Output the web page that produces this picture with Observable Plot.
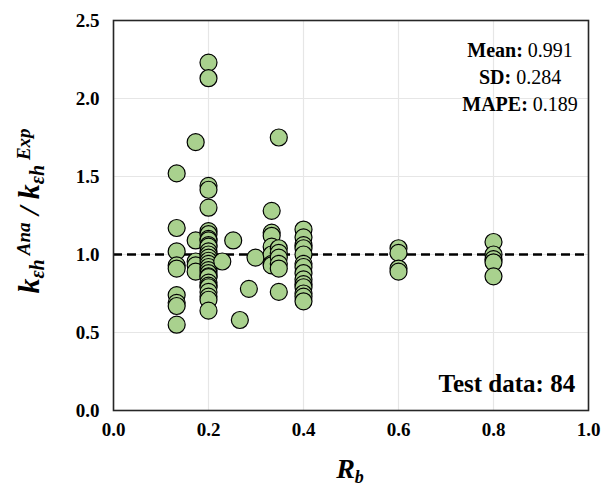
<!DOCTYPE html>
<html>
<head>
<meta charset="utf-8">
<script src="https://cdn.jsdelivr.net/npm/d3@7"></script>
<script src="https://cdn.jsdelivr.net/npm/@observablehq/plot@0.6"></script>
<style>
  html, body { margin: 0; padding: 0; background: #fff; }
</style>
</head>
<body>
<div id="chart"></div>
<script>
// ---- data ----
const rbValues = [0.133, 0.173, 0.2, 0.229, 0.252, 0.266, 0.285, 0.299, 0.333, 0.348, 0.4, 0.6, 0.8];
const ratioGroups = [
  [1.52, 1.17, 1.02, 0.93, 0.91, 0.74, 0.69, 0.67, 0.55],
  [1.72, 1.09, 0.955, 0.93, 0.89],
  [2.23, 2.13, 1.44, 1.415, 1.30, 1.15, 1.13, 1.10, 1.09, 1.06, 1.05, 1.02, 1.00, 0.98, 0.96, 0.94, 0.92, 0.90, 0.88, 0.86, 0.855, 0.82, 0.80, 0.79, 0.76, 0.73, 0.71, 0.64],
  [0.955],
  [1.09],
  [0.58],
  [0.78],
  [0.98],
  [1.28, 1.14, 1.12, 1.05, 1.00, 0.94, 0.93],
  [1.75, 1.04, 1.01, 0.98, 0.94, 0.91, 0.76],
  [1.16, 1.11, 1.06, 1.04, 1.00, 0.94, 0.92, 0.88, 0.84, 0.81, 0.79, 0.75, 0.73, 0.70],
  [1.04, 1.01, 0.91, 0.89],
  [1.08, 1.00, 0.97, 0.95, 0.86]
];
const xTicks = [0, 0.2, 0.4, 0.6, 0.8, 1.0];
const yTicks = [0, 0.5, 1.0, 1.5, 2.0, 2.5];
const statLabels = ["Mean:", "SD:", "MAPE:"];
const statValues = ["0.991", "0.284", "0.189"];
const testLabel = "Test data: 84";

const points = [];
rbValues.forEach((rb, i) => ratioGroups[i].forEach(r => points.push({rb, r})));

const font = "'Liberation Serif', 'Times New Roman', serif";

const chart = Plot.plot({
  width: 603,
  height: 496,
  marginLeft: 113,
  marginRight: 15,
  marginTop: 20,
  marginBottom: 86,
  style: { fontFamily: font, background: "#fff", color: "#000" },
  x: { domain: [0, 1] },
  y: { domain: [0, 2.5] },
  marks: [
    Plot.gridX(xTicks, { stroke: "#e6e6e6", strokeOpacity: 1, strokeWidth: 1.2 }),
    Plot.gridY(yTicks, { stroke: "#e6e6e6", strokeOpacity: 1, strokeWidth: 1.2 }),
    Plot.axisX(xTicks, { tickSize: 0, tickPadding: 12, tickFormat: d3.format(".1f"), fontSize: 19, fontWeight: "bold", label: null }),
    Plot.axisY(yTicks, { tickSize: 0, tickPadding: 14, tickFormat: d3.format(".1f"), fontSize: 19, fontWeight: "bold", label: null }),
    Plot.ruleY([1], { stroke: "#000", strokeWidth: 2.5, strokeDasharray: "9,5" }),
    Plot.dot(points, { x: "rb", y: "r", r: 8.5, fill: "#a9d18e", fillOpacity: 1, stroke: "#000", strokeWidth: 1.2 }),
    Plot.frame({ stroke: "#262626", strokeWidth: 1.6 })
  ]
});

const sx = chart.scale("x"), sy = chart.scale("y");
const svg = d3.select(chart);

// statistics block
const statY = [2.262, 2.09, 1.918];
statLabels.forEach((lab, i) => {
  const t = svg.append("text")
    .attr("x", sx.apply(0.857)).attr("y", sy.apply(statY[i]))
    .attr("text-anchor", "middle")
    .attr("font-family", font).attr("font-size", 20).attr("fill", "#000");
  t.append("tspan").attr("font-weight", "bold").text(lab);
  t.append("tspan").attr("font-weight", "normal").text(" " + statValues[i]);
});

svg.append("text")
  .attr("x", sx.apply(0.973)).attr("y", sy.apply(0.115))
  .attr("text-anchor", "end")
  .attr("font-family", font).attr("font-size", 25).attr("font-weight", "bold").attr("fill", "#000")
  .text(testLabel);

// x axis label R_b
const xl = svg.append("text")
  .attr("x", 350).attr("y", 478)
  .attr("text-anchor", "middle")
  .attr("font-family", font).attr("font-size", 28).attr("font-weight", "bold").attr("font-style", "italic").attr("fill", "#000");
xl.append("tspan").text("R");
xl.append("tspan").attr("font-size", 18).attr("dy", 5).text("b");

// y axis label k_εh^Ana / k_εh^Exp
const yl = svg.append("text")
  .attr("transform", "translate(39,211) rotate(-90)")
  .attr("text-anchor", "middle")
  .attr("font-family", font).attr("font-size", 30).attr("font-weight", "bold").attr("font-style", "italic").attr("fill", "#000");
yl.append("tspan").text("k");
yl.append("tspan").attr("font-size", 20).attr("dy", 5).text("εh");
yl.append("tspan").attr("font-size", 19).attr("dy", -14).text(" Ana");
yl.append("tspan").attr("dy", 9).text(" / k");
yl.append("tspan").attr("font-size", 20).attr("dy", 5).text("εh");
yl.append("tspan").attr("font-size", 19).attr("dy", -14).text(" Exp");

document.getElementById("chart").appendChild(chart);
</script>
</body>
</html>
